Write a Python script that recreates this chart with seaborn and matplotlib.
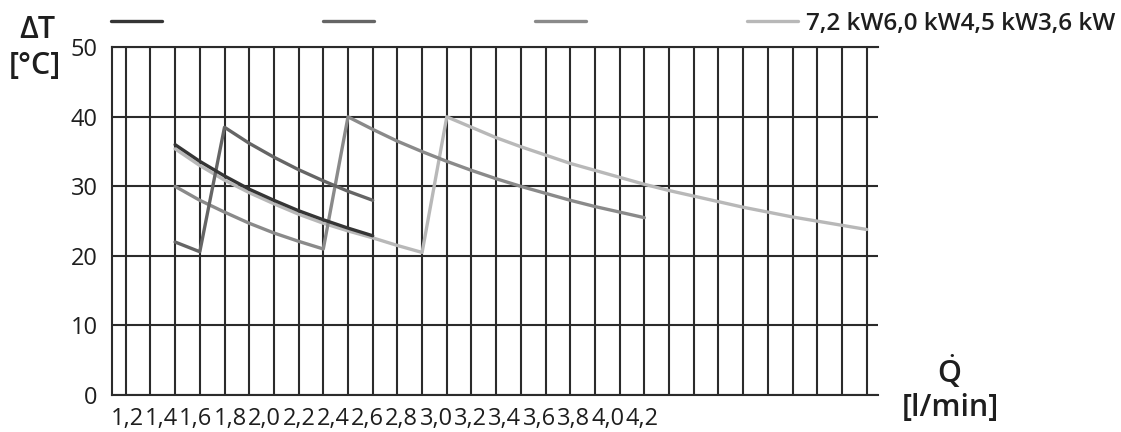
import numpy as np
import pandas as pd
import matplotlib
matplotlib.use("Agg")
import matplotlib.pyplot as plt
import seaborn as sns

# ---------------- data ----------------
q_grid = [1.2, 1.3, 1.4, 1.5, 1.6, 1.7, 1.8, 1.9, 2.0, 2.1, 2.2, 2.3, 2.4, 2.5, 2.6,
          2.7, 2.8, 2.9, 3.0, 3.1, 3.2, 3.3, 3.4, 3.5, 3.6, 3.7, 3.8, 3.9, 4.0, 4.1, 4.2]
x_tick_labels = ["1,2", "1,4", "1,6", "1,8", "2,0", "2,2", "2,4", "2,6", "2,8", "3,0",
                 "3,2", "3,4", "3,6", "3,8", "4,0", "4,2"]
y_ticks = [0, 10, 20, 30, 40, 50]

series_names = ["7,2 kW", "6,0 kW", "4,5 kW", "3,6 kW"]

s1_q = [1.4, 1.5, 1.6, 1.7, 1.8, 1.9, 2.0, 2.1, 2.2]
s1_t = [36.0, 33.6, 31.5, 29.6, 28.0, 26.5, 25.2, 24.0, 22.9]

s2_q = [1.4, 1.5, 1.6, 1.7, 1.8, 1.9, 2.0, 2.1, 2.2]
s2_t = [22.0, 20.6, 38.5, 36.2, 34.2, 32.4, 30.8, 29.3, 28.0]

s3_q = [1.4, 1.5, 1.6, 1.7, 1.8, 1.9, 2.0, 2.1, 2.2, 2.3, 2.4, 2.5, 2.6, 2.7,
        2.8, 2.9, 3.0, 3.1, 3.2, 3.3]
s3_t = [30.0, 28.0, 26.3, 24.7, 23.3, 22.1, 21.0, 40.0, 38.2, 36.5, 35.0, 33.6, 32.3, 31.1,
        30.0, 29.0, 28.0, 27.1, 26.3, 25.5]

s4_q = [1.4, 1.5, 1.6, 1.7, 1.8, 1.9, 2.0, 2.1, 2.2, 2.3, 2.4, 2.5, 2.6, 2.7, 2.8, 2.9,
        3.0, 3.1, 3.2, 3.3, 3.4, 3.5, 3.6, 3.7, 3.8, 3.9, 4.0, 4.1, 4.2]
s4_t = [35.4, 33.0, 30.9, 29.1, 27.5, 26.0, 24.7, 23.6, 22.6, 21.5, 20.5, 40.0, 38.5, 37.0,
        35.7, 34.5, 33.3, 32.3, 31.3, 30.3, 29.4, 28.6, 27.8, 27.0, 26.3, 25.6, 25.0, 24.4, 23.8]

series_q = [s1_q, s2_q, s3_q, s4_q]
series_t = [s1_t, s2_t, s3_t, s4_t]

# ---------------- style ----------------
sns.set_style("white")
plt.rcParams["font.family"] = ["Open Sans", "DejaVu Sans"]
plt.rcParams["mathtext.fontset"] = "custom"
plt.rcParams["mathtext.rm"] = "Open Sans:weight=semibold"
plt.rcParams["mathtext.it"] = "Open Sans:weight=semibold"
plt.rcParams["mathtext.bf"] = "Open Sans:weight=bold"
TXT = "#1e1e1e"
GRID = "#2b2b2b"
colors = ["#353535", "#656565", "#8a8a8a", "#b8b8b8"]
palette = dict(zip(series_names, colors))
FS = 17
FS_T = 22

rows = []
for name, qs, ts in zip(series_names, series_q, series_t):
    for q, t in zip(qs, ts):
        rows.append({"Q": q, "dT": t, "series": name})
df = pd.DataFrame(rows)

W, H = 1121, 432
fig = plt.figure(figsize=(W / 100, H / 100), dpi=100)
ax = fig.add_axes([111.7 / W, (H - 395) / H, (878 - 111.7) / W, (395 - 47.3) / H])

# draw lightest first so the darkest ends on top
sns.lineplot(data=df, x="Q", y="dT", hue="series", hue_order=series_names[::-1],
             palette=palette, linewidth=2.4, sort=False, estimator=None,
             legend=False, ax=ax)

ax.set_xlim(1.2 - 14.0 / 247, 4.2 + 11.3 / 247)
ax.set_ylim(0, 50)

# vertical grid: one line per flow value
ax.set_xticks(q_grid, minor=True)
# labels laid out edge to edge starting at the left axis
lab_start = 1.2 + 1.5 / 247
lab_step = 34.33 / 247
ax.set_xticks([lab_start + lab_step * i for i in range(len(x_tick_labels))])
ax.set_xticklabels(x_tick_labels)
ax.set_yticks(y_ticks)
ax.set_yticklabels([str(v) for v in y_ticks])

ax.grid(False)
ax.grid(True, which="minor", axis="x", color=GRID, linewidth=1.5)
ax.grid(True, which="major", axis="y", color=GRID, linewidth=1.5)
ax.set_axisbelow(True)
ax.tick_params(axis="both", which="both", length=0, labelsize=FS, colors=TXT)
ax.tick_params(axis="y", pad=10)
ax.tick_params(axis="x", pad=9)
for side in ["left", "top", "bottom"]:
    ax.spines[side].set_visible(True)
    ax.spines[side].set_color(GRID)
    ax.spines[side].set_linewidth(1.5)
ax.spines["right"].set_visible(False)
ax.set_xlabel("")
ax.set_ylabel("")

# axis titles
def ftext(x, y, s, **kw):
    fig.text(x / W, 1 - y / H, s, ha="center", va="baseline", fontsize=FS_T,
             color=TXT, fontweight="semibold", **kw)

ftext(37, 38, "ΔT")
ftext(35, 74, "[°C]")
ftext(949, 383, r"$\dot{\mathrm{Q}}$")
ftext(950, 416, "[l/min]")

# legend: handles spread across the top, names run together after the last one
line_by_label = {}
for ln, name in zip(ax.lines, series_names[::-1]):
    line_by_label[name] = ln
handles = [line_by_label[n] for n in series_names]
labels = ["", "", "", "".join(series_names)]
leg = fig.legend(handles, labels, ncol=4, loc="center left",
                 bbox_to_anchor=(111 / W, 1 - 24 / H), frameon=False,
                 prop={"size": 17.5, "weight": "semibold"},
                 handlelength=2.1, handletextpad=0.32, columnspacing=6.3,
                 borderpad=0, borderaxespad=0, labelcolor=TXT)

fig.savefig("out.png", dpi=100)
